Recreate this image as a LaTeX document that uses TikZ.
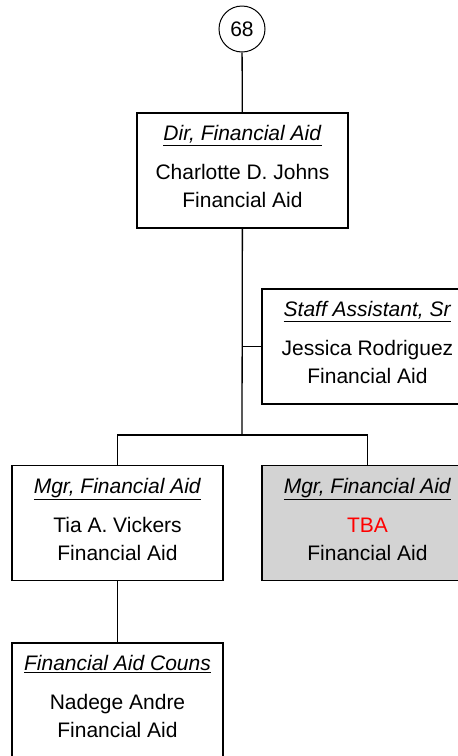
\documentclass[tikz,border=0pt]{standalone}
\usepackage{fontspec}
\setmainfont{Liberation Sans}
\usetikzlibrary{positioning}
\definecolor{vacant}{RGB}{211,211,211}
\tikzset{
  every picture/.style={font=\fontsize{21}{28}\selectfont},
  link/.style={line width=1.3pt},
  post/.style={draw,line width=1.5pt,minimum width=211pt,minimum height=115pt,align=center,inner sep=0pt},
  open/.style={post,fill=vacant},
  badge/.style={draw,circle,line width=1pt,minimum size=46pt,inner sep=0pt},
}
\newcommand{\role}[1]{\underline{\textit{#1}}\\[11pt]}
\newcommand{\unit}[1]{#1\\[-20pt]\mbox{}}
\begin{document}
\begin{tikzpicture}[x=1pt,y=-1pt]
  \useasboundingbox (0,0) rectangle (458,756);
  \clip (0,0) rectangle (458,756);
  \node[badge] (ref) at (242,29) {68};
  \node[post] (dir) at (242.5,170.5) {\role{Dir, Financial Aid}Charlotte D. Johns\\\unit{Financial Aid}};
  \node[post] (staff) at (367.5,346.5) {\role{Staff Assistant, Sr}Jessica Rodriguez\\\unit{Financial Aid}};
  \node[post] (mgrA) at (117.5,523) {\role{Mgr, Financial Aid}Tia A. Vickers\\\unit{Financial Aid}};
  \node[open] (mgrB) at (367.5,523) {\role{Mgr, Financial Aid}\textcolor{red}{TBA}\\\unit{Financial Aid}};
  \node[post] (couns) at (117.5,700.5) {\role{Financial Aid Couns}Nadege Andre\\\unit{Financial Aid}};
  \coordinate (split) at (242,435);
  \coordinate (tap) at (dir.south |- staff.west);
  \draw[link] (ref) -- (dir);
  \draw[link] (dir) -- (split);
  \draw[link] (tap) -- (staff);
  \draw[link] (mgrA) |- (split) -| (mgrB);
  \draw[link] (mgrA) -- (couns);
\end{tikzpicture}
\end{document}
